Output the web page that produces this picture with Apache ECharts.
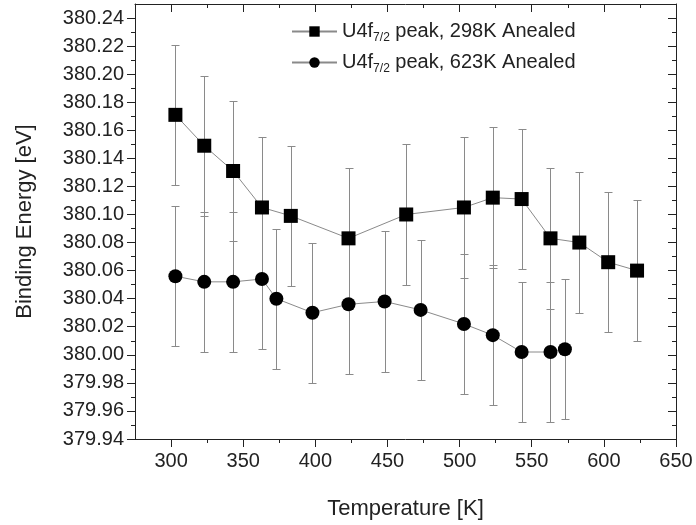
<!DOCTYPE html>
<html>
<head>
<meta charset="utf-8">
<script src="https://cdn.jsdelivr.net/npm/echarts@6/dist/echarts.min.js"></script>
<style>
html,body{margin:0;padding:0;background:#fff;}
#chart{width:696px;height:525px;}
</style>
</head>
<body>
<div id="chart"></div>
<script>
// ---- data ----
const seriesNames = ['U4f7/2 peak, 298K Anealed', 'U4f7/2 peak, 623K Anealed'];
const tempA = [303, 323, 343, 363, 383, 423, 463, 503, 523, 543, 563, 583, 603, 623];
const energyA = [380.171, 380.149, 380.131, 380.105, 380.099, 380.083, 380.100, 380.105, 380.112, 380.111, 380.083, 380.080, 380.066, 380.060];
const errA = [0.05, 0.05, 0.05, 0.05, 0.05, 0.05, 0.05, 0.05, 0.05, 0.05, 0.05, 0.05, 0.05, 0.05];
const tempB = [303, 323, 343, 363, 373, 398, 423, 448, 473, 503, 523, 543, 563, 573];
const energyB = [380.056, 380.052, 380.052, 380.054, 380.040, 380.030, 380.036, 380.038, 380.032, 380.022, 380.014, 380.002, 380.002, 380.004];
const errB = [0.05, 0.05, 0.05, 0.05, 0.05, 0.05, 0.05, 0.05, 0.05, 0.05, 0.05, 0.05, 0.05, 0.05];
const xTicks = [300, 350, 400, 450, 500, 550, 600, 650];
const xMinorTicks = [325, 375, 425, 475, 525, 575, 625];
const yTicks = [379.94, 379.96, 379.98, 380.00, 380.02, 380.04, 380.06, 380.08, 380.10, 380.12, 380.14, 380.16, 380.18, 380.20, 380.22, 380.24];
const yMinorTicks = [379.95, 379.97, 379.99, 380.01, 380.03, 380.05, 380.07, 380.09, 380.11, 380.13, 380.15, 380.17, 380.19, 380.21, 380.23];
const xRange = [275, 650];
const yRange = [379.94, 380.25];

// ---- build ----
const FONT = '"Liberation Sans", Arial, sans-serif';
const AX = '#222';
const ERR = '#8a8a8a';

function pts(t, v) { return t.map((x, i) => [x, v[i]]); }
function errPts(t, v, e) { return t.map((x, i) => [x, v[i], e[i]]); }

function errRender(params, api) {
  const x = api.value(0), y = api.value(1), e = api.value(2);
  const top = api.coord([x, y + e]);
  const bot = api.coord([x, y - e]);
  const cx = Math.round(top[0]) + 0.5;
  const ty = Math.round(top[1]) + 0.5, by = Math.round(bot[1]) + 0.5;
  const w = 4;
  const st = { stroke: ERR, lineWidth: 1 };
  return {
    type: 'group',
    children: [
      { type: 'line', shape: { x1: cx, y1: ty, x2: cx, y2: by }, style: st },
      { type: 'line', shape: { x1: cx - w, y1: ty, x2: cx + w, y2: ty }, style: st },
      { type: 'line', shape: { x1: cx - w, y1: by, x2: cx + w, y2: by }, style: st }
    ]
  };
}

function xAx(pos, ticks, len, inside, line, labels, extra) {
  return Object.assign({
    type: 'value', min: xRange[0], max: xRange[1], position: pos,
    axisLine: { show: line, onZero: false, lineStyle: { color: AX, width: 1 } },
    axisTick: { show: true, customValues: ticks, length: len, inside: inside, lineStyle: { color: AX, width: 1 } },
    axisLabel: labels ? { show: true, customValues: ticks, fontSize: 20, color: AX, fontFamily: FONT, margin: 12 } : { show: false },
    splitLine: { show: false }
  }, extra || {});
}
function yAx(pos, ticks, len, inside, line, labels, extra) {
  return Object.assign({
    type: 'value', min: yRange[0], max: yRange[1], position: pos,
    axisLine: { show: line, onZero: false, lineStyle: { color: AX, width: 1 } },
    axisTick: { show: true, customValues: ticks, length: len, inside: inside, lineStyle: { color: AX, width: 1 } },
    axisLabel: labels ? { show: true, customValues: ticks, fontSize: 20, color: AX, fontFamily: FONT, margin: 11,
      formatter: v => Number(v).toFixed(2) } : { show: false },
    splitLine: { show: false }
  }, extra || {});
}

const legendFmt = name => {
  const m = name.match(/^U4f7\/2(.*)$/);
  return '{a|U4f}{s|7/2}{a|' + m[1] + '}';
};

const option = {
  backgroundColor: '#fff',
  animation: false,
  grid: { left: 135, right: 20, top: 4, bottom: 83, containLabel: false },
  legend: {
    orient: 'vertical', left: 291, top: 19, padding: 0, itemWidth: 45, itemHeight: 13, itemGap: 6,
    data: seriesNames,
    formatter: legendFmt,
    textStyle: {
      color: AX, fontFamily: FONT, fontSize: 20,
      rich: {
        a: { fontSize: 20, fontFamily: FONT, color: AX, lineHeight: 28 },
        s: { fontSize: 12, fontFamily: FONT, color: AX, lineHeight: 28, padding: [13, 0, 0, 0] }
      }
    }
  },
  xAxis: [
    xAx('bottom', xTicks, 8, false, true, true, {
      name: 'Temperature [K]', nameLocation: 'middle', nameGap: 59,
      nameTextStyle: { fontSize: 22, color: AX, fontFamily: FONT }
    }),
    xAx('bottom', xMinorTicks, 4, false, false, false),
    xAx('top', xTicks, 8, true, true, false),
    xAx('top', xMinorTicks, 4, true, false, false)
  ],
  yAxis: [
    yAx('left', yTicks, 8, false, true, true, {
      name: 'Binding Energy [eV]', nameLocation: 'middle', nameGap: 99, nameRotate: 90,
      nameTextStyle: { fontSize: 22, color: AX, fontFamily: FONT }
    }),
    yAx('left', yMinorTicks, 4, false, false, false),
    yAx('right', yTicks, 8, true, true, false),
    yAx('right', yMinorTicks, 4, true, false, false)
  ],
  series: [
    { type: 'custom', name: 'errA', renderItem: errRender, data: errPts(tempA, energyA, errA), z: 1, silent: true,
      encode: { x: 0, y: [1] } },
    { type: 'custom', name: 'errB', renderItem: errRender, data: errPts(tempB, energyB, errB), z: 1, silent: true,
      encode: { x: 0, y: [1] } },
    { type: 'line', name: seriesNames[0], data: pts(tempA, energyA), symbol: 'rect', symbolSize: 14,
      lineStyle: { color: '#8a8a8a', width: 1 }, itemStyle: { color: '#000' }, z: 3 },
    { type: 'line', name: seriesNames[1], data: pts(tempB, energyB), symbol: 'circle', symbolSize: 14,
      lineStyle: { color: '#8a8a8a', width: 1 }, itemStyle: { color: '#000' }, z: 3 }
  ]
};

const chart = echarts.init(document.getElementById('chart'), null, { renderer: 'canvas' });
chart.setOption(option);
</script>
</body>
</html>
